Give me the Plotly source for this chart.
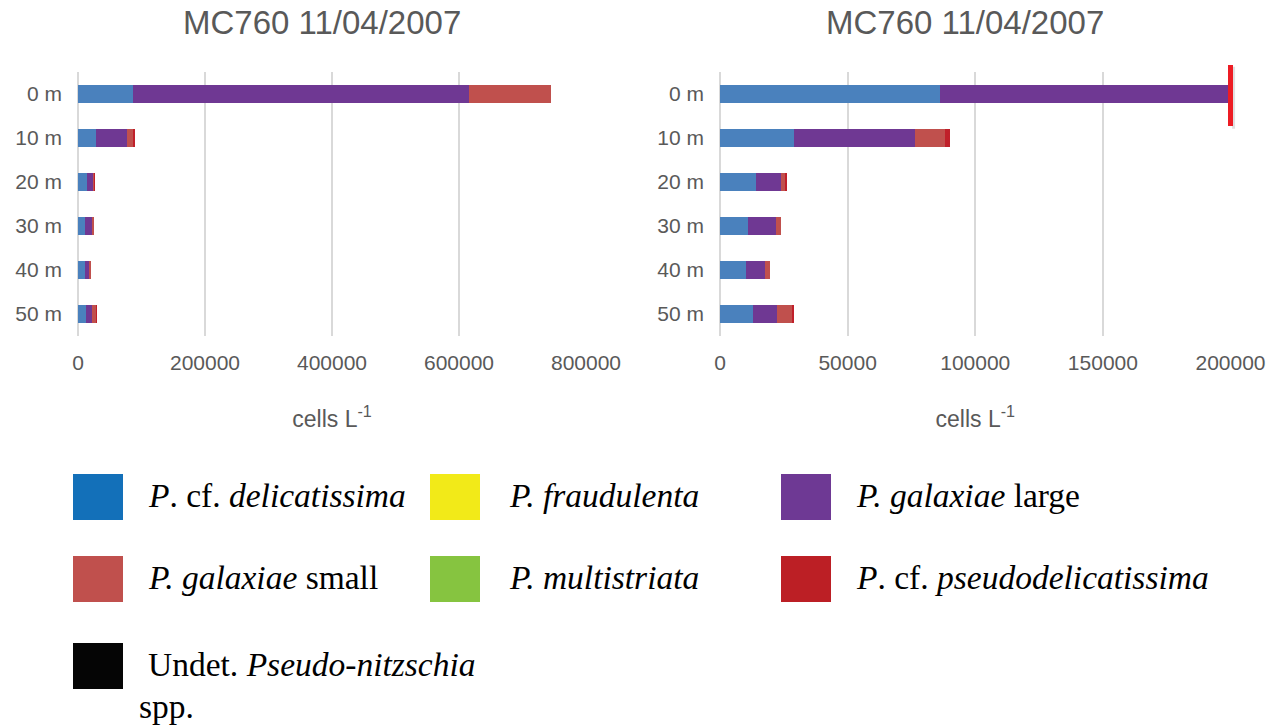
import plotly.graph_objects as go

# Pseudo-nitzschia counts at station MC760 (cells per litre), by sampling depth
depths = ["0 m", "10 m", "20 m", "30 m", "40 m", "50 m"]
delicatissima = [86300, 28900, 14100, 11000, 10300, 13100]
fraudulenta = [0, 0, 0, 0, 0, 0]
galaxiae_large = [529400, 47500, 9700, 11100, 7300, 9150]
galaxiae_small = [129100, 11700, 1700, 1700, 2100, 6150]
multistriata = [0, 0, 0, 0, 0, 0]
pseudodelicatissima = [0, 2200, 800, 0, 0, 650]
undetermined = [0, 0, 0, 0, 0, 0]

series = [
    ("P. cf. delicatissima", delicatissima, "#4A81BD"),
    ("P. fraudulenta", fraudulenta, "#F2EA18"),
    ("P. galaxiae large", galaxiae_large, "#6F3893"),
    ("P. galaxiae small", galaxiae_small, "#C0504D"),
    ("P. multistriata", multistriata, "#86C440"),
    ("P. cf. pseudodelicatissima", pseudodelicatissima, "#C0202A"),
    ("Undet. Pseudo-nitzschia spp.", undetermined, "#050505"),
]

chart_title = "MC760 11/04/2007"
axis_title = "cells L<sup>-1</sup>"

# Legend block (drawn below both panels)
legend_labels = [
    "<i>P</i>. cf. <i>delicatissima</i>",
    "<i>P. fraudulenta</i>",
    "<i>P. galaxiae</i> large",
    "<i>P. galaxiae</i> small",
    "<i>P. multistriata</i>",
    "<i>P</i>. cf. <i>pseudodelicatissima</i>",
    "Undet. <i>Pseudo-nitzschia</i>",
]
legend_colors = ["#1370B9", "#F2EA18", "#6E3994", "#C0504D",
                 "#86C440", "#BC1F25", "#050505"]

W, H = 1277, 725


def fx(p):
    return p / W


def fy(p):
    return 1 - p / H


GRID = "#D9D9D9"
TXT = "#595959"
SANS = "Liberation Sans, Arial, sans-serif"
SERIF = "Liberation Serif, Times New Roman, serif"

fig = go.Figure()
for xa, ya in (("x", "y"), ("x2", "y2")):
    for name, vals, col in series:
        fig.add_trace(go.Bar(
            y=depths, x=vals, name=name, orientation="h",
            marker=dict(color=col, line=dict(width=0)),
            xaxis=xa, yaxis=ya, showlegend=False,
        ))

plot_top, plot_bottom = 72, 336
ydom = [fy(plot_bottom), fy(plot_top)]

common_x = dict(
    showgrid=True, gridcolor=GRID, gridwidth=1.5,
    zeroline=True, zerolinecolor=GRID, zerolinewidth=1.5,
    showline=False, ticks="", tickformat="d", automargin=False,
    tickfont=dict(family=SANS, size=21, color=TXT),
    ticklabelstandoff=12,
    title=dict(text=axis_title, font=dict(family=SANS, size=23, color=TXT),
               standoff=37),
    fixedrange=True,
)
common_y = dict(
    type="category", categoryarray=depths, categoryorder="array",
    range=[5.5, -0.5], showgrid=False, zeroline=False, showline=False,
    ticks="", automargin=False,
    tickfont=dict(family=SANS, size=21, color=TXT),
    ticklabelstandoff=15, domain=ydom,
)

fig.update_layout(
    width=W, height=H,
    margin=dict(l=0, r=0, t=0, b=0, autoexpand=False),
    paper_bgcolor="white", plot_bgcolor="white",
    barmode="stack", bargap=0.59,
    xaxis=dict(domain=[fx(78), fx(586)], range=[0, 800000], dtick=200000,
               anchor="y", **common_x),
    yaxis=dict(anchor="x", **common_y),
    xaxis2=dict(domain=[fx(720), fx(1230.5)], range=[0, 200000], dtick=50000,
                anchor="y2", **common_x),
    yaxis2=dict(anchor="x2", **common_y),
    showlegend=False,
)

annotations = []
for cx in (321.5, 965):
    annotations.append(dict(
        text=chart_title, x=fx(cx), y=fy(22), xref="paper", yref="paper",
        xanchor="center", yanchor="middle", showarrow=False,
        font=dict(family=SANS, size=33, color=TXT),
    ))

shapes = []
# axis-break marker on the truncated surface bar of the right panel
shapes.append(dict(type="line", xref="x2 domain", yref="y2 domain",
                   x0=1.006, x1=1.006, y0=0.785, y1=1.02,
                   line=dict(color="rgba(0,0,0,0.12)", width=3)))
shapes.append(dict(type="line", xref="x2 domain", yref="y2 domain",
                   x0=1.0, x1=1.0, y0=0.7955, y1=1.0265,
                   line=dict(color="#ED1C24", width=5)))

sw_w, sw_h = 50, 46
col_left = [73, 430, 781]
text_left = [146, 507, 854]
row_center = [497, 579, 666]
for i, (lab, col) in enumerate(zip(legend_labels, legend_colors)):
    r, c = divmod(i, 3)
    x0 = col_left[c]
    yc = row_center[r]
    shapes.append(dict(type="rect", xref="paper", yref="paper",
                       x0=fx(x0), x1=fx(x0 + sw_w),
                       y0=fy(yc + sw_h / 2), y1=fy(yc - sw_h / 2),
                       fillcolor=col, line=dict(width=0)))
    annotations.append(dict(
        text=lab, x=fx(text_left[c]), y=fy(yc - 2), xref="paper", yref="paper",
        xanchor="left", yanchor="middle", showarrow=False,
        font=dict(family=SERIF, size=33.5, color="black"),
    ))
annotations.append(dict(
    text="spp.", x=fx(137), y=fy(706), xref="paper", yref="paper",
    xanchor="left", yanchor="middle", showarrow=False,
    font=dict(family=SERIF, size=33.5, color="black"),
))

fig.update_layout(annotations=annotations, shapes=shapes)
fig.write_html("out.html")
